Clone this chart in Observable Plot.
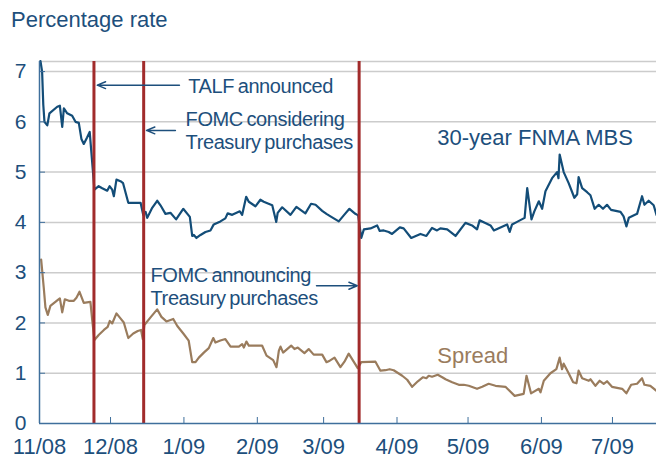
<!DOCTYPE html>
<html><head><meta charset="utf-8">
<script src="https://cdn.jsdelivr.net/npm/d3@7"></script>
<script src="https://cdn.jsdelivr.net/npm/@observablehq/plot@0.6"></script>
<style>
body{margin:0;background:#fff;font-family:"Liberation Sans",Arial,sans-serif;}
#title{height:40px;line-height:40px;font-size:22px;color:#1d4f7c;padding-left:11px;}
#chart svg{display:block;}
</style></head><body>
<div id="title">Percentage rate</div>
<div id="chart"></div>
<script>
// Day offsets are counted from 1 Nov 2008
const startDate = Date.UTC(2008, 10, 1);
const endDay = 260.6;
const yTop = 7.2;

const mbsDays = [0.4,1.1,1.6,2.1,3.3,4.2,7.5,8.6,9.6,10.3,
11.7,13.8,15.2,16.6,17.7,18.7,20.1,21.2,23.2,25.0,
26.5,28.6,29.6,30.7,31.4,32.5,34.2,35.3,37.5,42.7,
43.8,44.8,45.5,47.6,49.7,51.1,53.2,55.3,57.7,60.7,
63.5,64.5,65.2,66.3,68.0,70.1,72.2,73.6,76.4,78.5,
79.5,81.4,84.6,85.6,87.3,88.4,91.2,93.3,94.7,98.3,
100.0,100.6,102.5,106.0,108.5,112.3,114.7,116.6,119.4,121.2,
122.9,126.4,128.5,130.9,133.4,134.6,135.9,137.0,139.8,142.6,
143.7,145.4,147.5,148.9,152.2,153.8,157.0,160.9,163.4,165.8,
167.9,169.3,172.2,175.7,179.9,182.7,184.8,185.9,188.3,190.5,
191.9,194.7,197.5,198.6,199.6,201.7,204.9,206.0,207.8,209.0,
210.9,212.3,213.7,216.5,218.6,219.2,219.7,221.4,223.5,225.9,
227.1,227.7,229.2,231.3,232.7,234.5,236.2,238.0,239.7,241.4,
245.4,246.7,247.9,248.9,252.4,254.5,255.5,257.3,259.4,260.6];
const mbsRates = [7.21,7.0,6.34,6.0,5.93,6.17,6.30,6.32,5.9,6.27,
6.17,6.12,6.0,5.98,5.66,5.56,5.69,5.8,4.65,4.72,
4.68,4.63,4.72,4.65,4.52,4.85,4.82,4.78,4.39,4.39,
4.15,4.21,4.09,4.29,4.43,4.34,4.17,4.19,4.06,4.27,
4.11,3.73,3.75,3.69,3.75,3.81,3.84,3.96,4.02,4.08,
4.18,4.15,4.22,4.15,4.51,4.41,4.32,4.45,4.41,4.34,
4.01,4.19,4.30,4.15,4.31,4.18,4.37,4.35,4.23,4.17,
4.12,4.02,4.14,4.27,4.17,4.14,3.69,3.86,3.88,3.94,
3.83,3.84,3.81,3.77,3.90,3.88,3.69,3.77,3.73,3.89,
3.84,3.88,3.86,3.73,3.99,3.94,3.86,4.04,3.99,3.94,
3.84,3.90,3.96,3.81,3.96,4.01,4.09,4.68,4.06,4.22,
4.42,4.27,4.62,4.88,5.0,4.88,5.35,5.0,4.78,4.49,
4.56,4.90,4.68,4.60,4.54,4.27,4.35,4.27,4.35,4.25,
4.21,4.12,3.92,4.09,4.17,4.52,4.35,4.43,4.34,4.15];

const spreadDays = [0.7,1.8,2.5,3.5,4.6,7.5,8.6,9.6,10.7,12.4,
14.5,15.6,16.9,18.7,21.5,22.3,23.2,25.0,27.2,28.8,
29.7,30.7,32.5,34.2,35.6,37.5,39.6,41.5,42.9,43.6,
44.3,46.9,49.7,51.5,53.6,56.5,58.2,60.9,63.0,64.5,
65.9,67.3,69.4,71.5,73.4,74.3,76.4,78.5,80.7,84.2,
85.6,86.3,87.4,88.4,94.0,95.9,98.7,100.1,101.1,101.8,
102.9,106.3,107.7,109.1,111.9,113.7,115.8,119.4,121.2,122.6,
124.6,127.1,128.8,130.6,132.7,134.4,135.9,141.9,144.0,146.1,
147.9,149.6,153.2,155.3,157.4,159.8,162.0,163.4,164.4,165.8,
168.2,170.1,171.5,174.3,177.1,179.2,181.3,184.8,187.0,189.7,
192.6,196.8,200.7,204.5,205.7,207.6,210.9,211.6,213.0,215.8,
218.3,219.7,220.7,221.4,223.5,225.4,226.8,227.7,229.2,232.0,
232.7,234.8,236.6,238.3,239.7,241.8,246.1,247.9,249.9,252.4,
254.5,255.5,258.0,260.6];
const spreadValues = [3.26,2.70,2.31,2.16,2.34,2.45,2.49,2.21,2.47,2.44,
2.44,2.50,2.62,2.40,2.42,2.04,1.66,1.76,1.86,1.92,
2.04,1.99,2.19,2.09,2.01,1.70,1.79,1.84,1.86,1.68,
1.96,2.11,2.27,2.12,2.03,2.08,1.94,1.78,1.65,1.22,
1.22,1.31,1.41,1.50,1.70,1.61,1.65,1.68,1.53,1.53,
1.58,1.51,1.63,1.55,1.55,1.35,1.26,1.12,1.45,1.53,
1.41,1.55,1.48,1.51,1.40,1.48,1.37,1.37,1.22,1.25,
1.31,1.12,1.23,1.39,1.23,1.10,1.22,1.23,1.05,1.06,
1.08,1.06,0.95,0.87,0.73,0.84,0.92,0.90,0.95,0.93,
0.97,0.92,0.88,0.82,0.77,0.77,0.75,0.69,0.73,0.79,
0.75,0.73,0.55,0.59,0.95,0.60,0.69,0.62,0.85,1.00,
1.08,1.31,1.08,1.19,1.00,0.82,0.80,1.05,0.90,0.85,
0.88,0.75,0.85,0.79,0.84,0.73,0.69,0.60,0.77,0.79,
0.90,0.77,0.75,0.65];

const tickDates = ["2008-11-01","2008-12-01","2009-01-01","2009-02-01","2009-03-01","2009-04-01","2009-05-01","2009-06-01","2009-07-01"];
const tickLabels = ["11/08","12/08","1/09","2/09","3/09","4/09","5/09","6/09","7/09"];
const yTicks = [0,1,2,3,4,5,6,7];

const eventDates = ["2008-11-24","2008-12-15","2009-03-16"];

// annotation texts, anchored in data units (day offset, rate)
const noteTexts = ["TALF announced","FOMC considering\nTreasury purchases","FOMC announcing\nTreasury purchases"];
const noteDays = [62.8, 61.7, 46.9];
const noteRates = [6.72, 5.84, 2.73];
const arrowFromDays = [59.1, 57.4, 117.0];
const arrowToDays = [24.4, 45.2, 134.2];
const arrowRates = [6.73, 5.83, 2.74];

const seriesLabels = ["30-year FNMA MBS","Spread"];
const seriesLabelDays = [168, 168];
const seriesLabelRates = [5.67, 1.35];

const dayToDate = d => new Date(startDate + d * 864e5);
const mbs = mbsDays.map((d, i) => ({date: dayToDate(d), v: mbsRates[i]}));
const spread = spreadDays.map((d, i) => ({date: dayToDate(d), v: spreadValues[i]}));
const notes = noteTexts.map((t, i) => ({t, date: dayToDate(noteDays[i]), v: noteRates[i]}));
const arrows = arrowFromDays.map((d, i) => ({x1: dayToDate(d), x2: dayToDate(arrowToDays[i]), y: arrowRates[i]}));
const seriesNotes = seriesLabels.map((t, i) => ({t, date: dayToDate(seriesLabelDays[i]), v: seriesLabelRates[i]}));

const blue = "#134d78";
const brown = "#9a7c5d";
const red = "#a12b2b";
const textBlue = "#1d4f7c";
const axisBlue = "#3f6f9c";
const grid = "#cccccc";

const chart = Plot.plot({
  width: 656,
  height: 420,
  marginLeft: 39,
  marginRight: 0,
  marginTop: 21,
  marginBottom: 37,
  style: {fontFamily: '"Liberation Sans", Arial, sans-serif', background: "#fff"},
  x: {type: "utc", domain: [dayToDate(0), dayToDate(endDay)]},
  y: {domain: [0, yTop]},
  marks: [
    Plot.ruleY([...yTicks.slice(1), yTop], {stroke: grid, strokeWidth: 1.5}),
    Plot.line(mbs, {x: "date", y: "v", stroke: blue, strokeWidth: 2.2, strokeLinejoin: "round"}),
    Plot.line(spread, {x: "date", y: "v", stroke: brown, strokeWidth: 2.2, strokeLinejoin: "round"}),
    Plot.ruleX(eventDates.map(d => new Date(d)), {y1: 0, y2: yTop, stroke: red, strokeWidth: 3}),
    Plot.ruleX([dayToDate(0)], {y1: 0, y2: yTop, stroke: axisBlue, strokeWidth: 1.5}),
    Plot.ruleY([0], {stroke: axisBlue, strokeWidth: 1.5}),
    Plot.axisY({ticks: yTicks, tickSize: -6, tickPadding: 19, fontSize: 21, stroke: axisBlue, fill: textBlue, tickFormat: d => String(d), label: null}),
    Plot.axisX({ticks: tickDates.map(d => new Date(d)), tickSize: -6, tickPadding: 21, fontSize: 22, stroke: axisBlue, fill: textBlue, tickFormat: (d, i) => tickLabels[i], label: null}),
    Plot.arrow(arrows, {x1: "x1", y1: "y", x2: "x2", y2: "y", stroke: textBlue, strokeWidth: 1.5, headLength: 9, headAngle: 45}),
    Plot.text(notes, {x: "date", y: "v", text: "t", textAnchor: "start", lineAnchor: "middle", fontSize: 20, lineHeight: 1.15, fill: textBlue}),
    Plot.text(seriesNotes, {x: "date", y: "v", text: "t", textAnchor: "start", lineAnchor: "middle", fontSize: 22, fill: (d) => d.t === "Spread" ? brown : textBlue})
  ]
});
document.getElementById("chart").appendChild(chart);
// tighten the annotation lettering like the original
d3.select(chart).selectAll('g[aria-label="text"]').filter((d, i) => i === 0).style("letter-spacing", "-0.4px").style("word-spacing", "-1.5px");
</script>
</body></html>
